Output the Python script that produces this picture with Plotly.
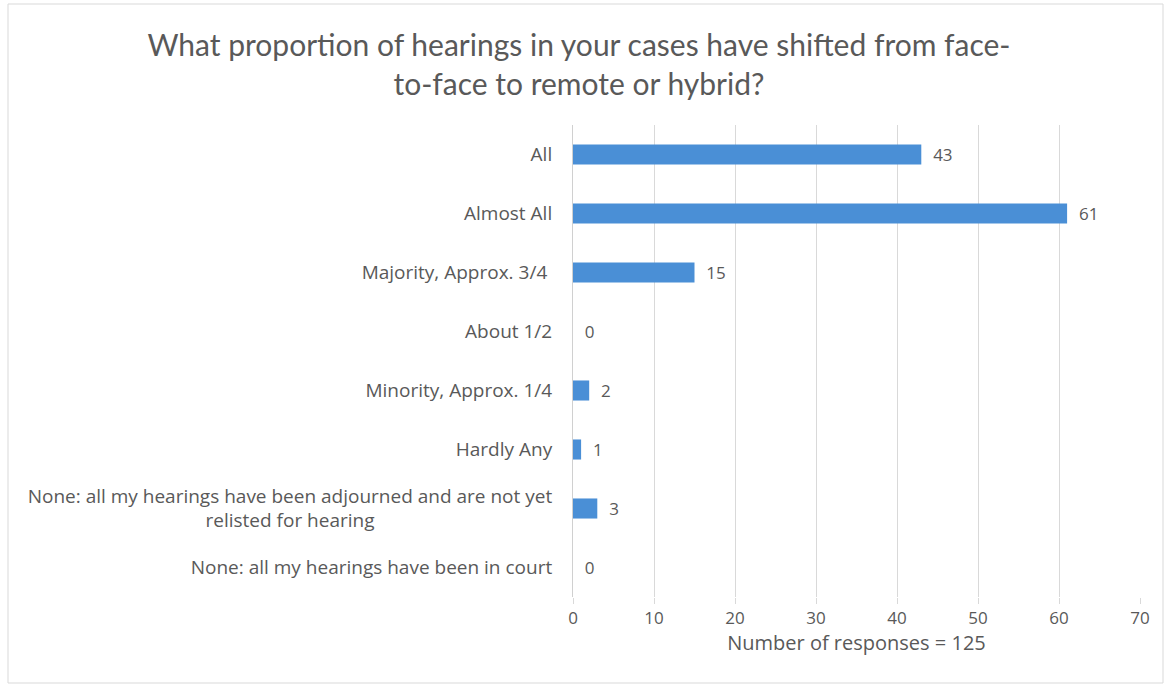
import plotly.graph_objects as go

categories = [
    "All",
    "Almost All",
    "Majority, Approx. 3/4 ",
    "About 1/2",
    "Minority, Approx. 1/4",
    "Hardly Any",
    "None: all my hearings have been adjourned and are not yet<br>relisted for hearing" + "&nbsp;" * 36,
    "None: all my hearings have been in court",
]
values = [43, 61, 15, 0, 2, 1, 3, 0]
x_ticks = [0, 10, 20, 30, 40, 50, 60, 70]

title_text = "What proportion of hearings in your cases have shifted from face-<br>to-face to remote or hybrid?"
x_title = "Number of responses = 125"

grey = "#595959"
font_family = "Open Sans"

fig = go.Figure(
    go.Bar(
        y=categories,
        x=values,
        orientation="h",
        marker=dict(color="#4a8fd6", line=dict(width=0)),
        text=["\u00a0\u00a0" + str(v) for v in values],
        textposition="outside",
        constraintext="none",
        textfont=dict(family=font_family, size=17, color=grey),
        cliponaxis=False,
        width=0.34,
    )
)

fig.update_layout(
    width=1172,
    height=688,
    paper_bgcolor="white",
    plot_bgcolor="white",
    margin=dict(l=573, r=32, t=125, b=91),
    showlegend=False,
    title=dict(
        text=title_text,
        x=0.494,
        xanchor="center",
        y=0.919,
        yanchor="middle",
        font=dict(family="Lato", size=30, color=grey),
    ),
    xaxis=dict(
        range=[0, 70],
        tickvals=x_ticks,
        showgrid=True,
        gridcolor="#d9d9d9",
        gridwidth=1,
        zeroline=False,
        showline=False,
        ticks="outside",
        ticklen=6,
        tickcolor="#d9d9d9",
        tickfont=dict(family=font_family, size=17, color=grey),
        title=dict(text=x_title, font=dict(family=font_family, size=20, color=grey), standoff=6),
    ),
    yaxis=dict(
        autorange="reversed",
        showgrid=False,
        zeroline=False,
        showline=True,
        linecolor="#d0d0d0",
        ticks="outside",
        ticklen=16,
        tickcolor="rgba(0,0,0,0)",
        tickfont=dict(family=font_family, size=19, color=grey),
    ),
    shapes=[
        dict(
            type="rect",
            xref="paper",
            yref="paper",
            x0=(8 - 573) / 567,
            x1=(1163 - 573) / 567,
            y0=(597 - 683) / 472,
            y1=(597 - 4) / 472,
            line=dict(color="#d9d9d9", width=1),
            fillcolor="rgba(0,0,0,0)",
            layer="below",
        )
    ],
)

fig.write_html(
    "out.html",
    config={"displayModeBar": False},
    post_script="document.body.style.margin='0';",
)
